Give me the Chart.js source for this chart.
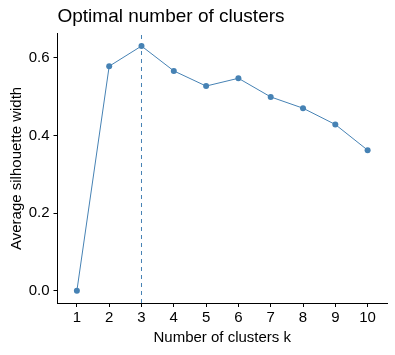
<!DOCTYPE html>
<html><head><meta charset="utf-8">
<script src="https://cdn.jsdelivr.net/npm/chart.js@4"></script>
<style>html,body{margin:0;padding:0;background:#fff}#wrap{width:395px;height:355px}</style>
</head><body><div id="wrap"><canvas id="c" width="395" height="355"></canvas></div>
<script>
const clusters = [1,2,3,4,5,6,7,8,9,10];
const silhouette = [0.0,0.578,0.630,0.566,0.527,0.547,0.499,0.470,0.428,0.362];
const yTicks = [0.0,0.2,0.4,0.6];
const titleText = 'Optimal number of clusters';
const xTitle = 'Number of clusters k';
const yTitle = 'Average silhouette width';

const color = '#4682B4';
const yMaxData = Math.max(...silhouette), yMinData = Math.min(...silhouette);
const span = yMaxData - yMinData;
const yMin = yMinData - 0.05*span, yMax = yMaxData + 0.05*span;
const optK = clusters[silhouette.indexOf(yMaxData)];
const font = "'Liberation Sans', Arial, sans-serif";

new Chart(document.getElementById('c'), {
  type: 'line',
  data: {
    datasets: [
      { data: clusters.map((k,i)=>({x:k,y:silhouette[i]})), borderColor: color, backgroundColor: color,
        borderWidth: 1, pointRadius: 3, pointHoverRadius: 3, pointBorderWidth: 0, tension: 0 },
      { data: [{x:optK,y:yMin},{x:optK,y:yMax}], borderColor: color, borderWidth: 1,
        borderDash: [4,4], pointRadius: 0, tension: 0, clip: 0 }
    ]
  },
  options: {
    responsive: false, animation: false, devicePixelRatio: 1,
    layout: { padding: { left: 8, right: 8, top: 0, bottom: 8 } },
    plugins: {
      legend: { display: false }, tooltip: { enabled: false },
      title: { display: true, text: titleText, align: 'start', fullSize: false, color: '#000',
        font: { family: font, size: 19, weight: 'normal' }, padding: { top: 5, bottom: 6 } }
    },
    scales: {
      x: { type: 'linear', min: 0.4, max: 10.6,
        afterBuildTicks: s => { s.ticks = clusters.map(v=>({value:v})); },
        afterFit: s => { s.height = 44; },
        ticks: { color: '#000', font: { family: font, size: 15 }, padding: 2, maxRotation: 0, autoSkip: false },
        grid: { display: true, drawOnChartArea: false, drawTicks: true, tickLength: 4, color: '#000' },
        border: { display: true, color: '#000', width: 1 },
        title: { display: true, text: xTitle, color: '#000', font: { family: font, size: 15 }, padding: { top: 1, bottom: 0 } }
      },
      y: { type: 'linear', min: yMin, max: yMax,
        afterBuildTicks: s => { s.ticks = yTicks.map(v=>({value:v})); },
        afterFit: s => { s.width = 49.5; },
        ticks: { color: '#000', font: { family: font, size: 15 }, padding: 4, callback: v => v.toFixed(1) },
        grid: { display: true, drawOnChartArea: false, drawTicks: true, tickLength: 4, color: '#000' },
        border: { display: true, color: '#000', width: 1 },
        title: { display: true, text: yTitle, color: '#000', font: { family: font, size: 15 }, padding: { top: 0, bottom: 2 } }
      }
    }
  }
});
</script></body></html>
